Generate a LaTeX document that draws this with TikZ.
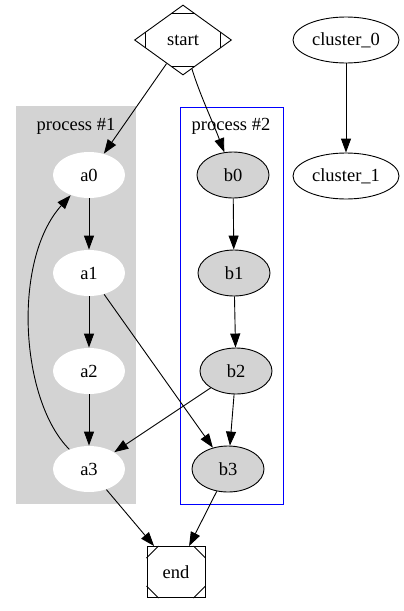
\documentclass[tikz,border=0pt]{standalone}
\usepackage{fontspec}
\setmainfont{Liberation Serif}
\usetikzlibrary{shapes.geometric,arrows.meta,calc}
\definecolor{gvgray}{HTML}{D3D3D3}
\begin{document}
\begin{tikzpicture}[x=1pt,y=-1pt,
  font=\fontsize{18.5}{20}\selectfont, line width=0.9pt,
  el/.style={ellipse, minimum width=72pt, minimum height=46pt, inner sep=0pt},
  wnode/.style={el, fill=white},
  gnode/.style={el, draw, fill=gvgray},
  onode/.style={el, draw, minimum width=106pt},
  arr/.style={-{Triangle[length=14pt,width=10pt]}},
  clabel/.style={inner sep=0pt}
]
\useasboundingbox (0,0) rectangle (404,611);
% clusters
\fill[gvgray] (16,106) rectangle (136,504);
\draw[blue] (180,107) rectangle (283,504);
\node[clabel] (l1) at (76,126) {process \#1};
\node[clabel] (l2) at (231,126) {process \#2};
% nodes
\node[diamond, draw, minimum width=97pt, minimum height=70pt, inner sep=0pt] (start) at (183,40) {start};
\node[onode] (c0) at (346,40) {cluster\_0};
\node[onode] (c1) at (346,176) {cluster\_1};
\node[wnode] (a0) at (89,175) {a0};
\node[wnode] (a1) at (89,273) {a1};
\node[wnode] (a2) at (89,371) {a2};
\node[wnode] (a3) at (89,469) {a3};
\node[gnode] (b0) at (233,175) {b0};
\node[gnode] (b1) at (234,273) {b1};
\node[gnode] (b2) at (236,371) {b2};
\node[gnode] (b3) at (228,469) {b3};
\node[draw, rectangle, minimum width=58pt, minimum height=51pt, inner sep=0pt] (end) at (176,572) {end};
% Mdiamond marks
\draw ($(start.north)!0.25!(start.west)$) -- ($(start.north)!0.25!(start.east)$);
\draw ($(start.south)!0.25!(start.west)$) -- ($(start.south)!0.25!(start.east)$);
\draw ($(start.west)!0.23!(start.north)$) -- ($(start.west)!0.23!(start.south)$);
\draw ($(start.east)!0.23!(start.north)$) -- ($(start.east)!0.23!(start.south)$);
% Msquare marks
\draw ($(end.north west)+(12,0)$) -- ($(end.north west)+(0,12)$);
\draw ($(end.north east)+(-12,0)$) -- ($(end.north east)+(0,12)$);
\draw ($(end.south west)+(12,0)$) -- ($(end.south west)+(0,-12)$);
\draw ($(end.south east)+(-12,0)$) -- ($(end.south east)+(0,-12)$);
% edges
\draw[arr] (start) -- (a0);
\draw[arr] (start) .. controls (200,95) and (212,120) .. (b0);
\draw[arr] (a0) -- (a1);
\draw[arr] (a1) -- (a2);
\draw[arr] (a2) -- (a3);
\draw[arr] (a1) -- (b3);
\draw[arr] (b2) -- (a3);
\draw[arr] (a3) .. controls (20,400) and (12,260) .. (a0);
\draw[arr] (b0) -- (b1);
\draw[arr] (b1) -- (b2);
\draw[arr] (b2) -- (b3);
\draw[arr] (a3) -- (end);
\draw[arr] (b3) -- (end);
\draw[arr] (c0) -- (c1);
\end{tikzpicture}
\end{document}
